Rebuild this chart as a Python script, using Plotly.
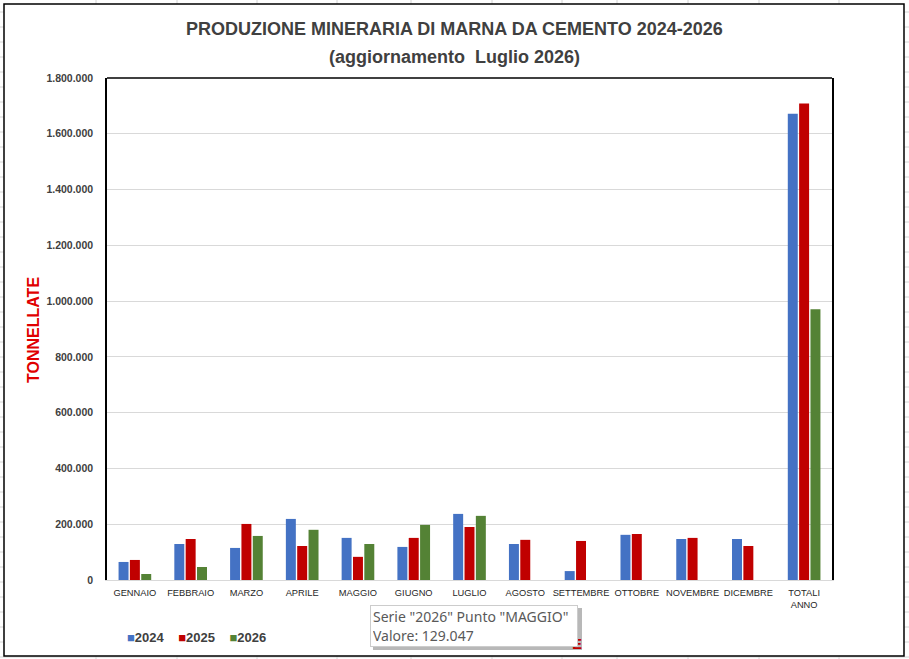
import plotly.graph_objects as go

# dati (tonnellate)
mesi = ["GENNAIO", "FEBBRAIO", "MARZO", "APRILE", "MAGGIO", "GIUGNO", "LUGLIO",
        "AGOSTO", "SETTEMBRE", "OTTOBRE", "NOVEMBRE", "DICEMBRE", "TOTALI<br>ANNO"]
anni = ["2024", "2025", "2026"]
colori = ["#4472C4", "#C00000", "#548235"]

prod_2024 = [64700, 129000, 115000, 219000, 151000, 118600, 237000,
             129000, 32000, 162000, 147000, 147000, 1672000]
prod_2025 = [71900, 147000, 201000, 122000, 83000, 151000, 190000,
             144000, 140000, 165000, 151000, 122000, 1709000]
prod_2026 = [21600, 46700, 158000, 180000, 129047, 197600, 230000,
             None, None, None, None, None, 971000]

y_ticks = list(range(0, 1800001, 200000))

# posizioni in pixel -> coordinate "paper"
L, R, T, B = 107, 832, 78, 580


def px(x):
    return (x - L) / (R - L)


def py(y):
    return (B - y) / (B - T)


fig = go.Figure()
for nome, col, vals in zip(anni, colori, [prod_2024, prod_2025, prod_2026]):
    fig.add_trace(go.Bar(x=mesi, y=vals, name=nome, marker_color=col,
                         marker_line_width=0, hoverinfo="skip"))

# griglia del foglio Excel attorno al grafico
shapes = []
for xc in [96, 177, 257, 337, 411, 492, 562, 617, 688, 759, 839]:
    shapes.append(dict(type="line", xref="paper", yref="paper", layer="below",
                       x0=px(xc), x1=px(xc), y0=py(0), y1=py(659),
                       line=dict(color="#d4d4d4", width=1)))
for yr in range(12, 659, 15):
    shapes.append(dict(type="line", xref="paper", yref="paper", layer="below",
                       x0=px(0), x1=px(909), y0=py(yr), y1=py(yr),
                       line=dict(color="#d4d4d4", width=1)))
# area del grafico
shapes.append(dict(type="rect", xref="paper", yref="paper", layer="below",
                   x0=px(4), x1=px(904), y0=py(4), y1=py(656),
                   fillcolor="white", line=dict(color="black", width=1.5)))
# bordo superiore area di tracciato
shapes.append(dict(type="line", xref="paper", yref="paper",
                   x0=0, x1=1, y0=1, y1=1, line=dict(color="black", width=1.5)))
# ombra del tooltip
shapes.append(dict(type="rect", xref="paper", yref="paper",
                   x0=px(373), x1=px(582), y0=py(608), y1=py(650),
                   fillcolor="#b8b8b8", line=dict(width=0)))

legenda = "&nbsp;&nbsp;&nbsp;&nbsp;".join(
    f"<span style='color:{c};font-size:13px'>■</span><b>{a}</b>"
    for a, c in zip(anni, colori))

annotations = [
    dict(text="<b>PRODUZIONE MINERARIA DI MARNA DA CEMENTO 2024-2026</b>",
         x=px(454.5), y=py(29), font=dict(size=18, color="#404040")),
    dict(text="<b>(aggiornamento  Luglio 2026)</b>",
         x=px(454.5), y=py(57), font=dict(size=18, color="#404040")),
    dict(text="<b>TONNELLATE</b>", textangle=-90,
         x=px(33), y=py(330), font=dict(size=16, color="#E00000")),
    dict(text=legenda, x=px(125), y=py(637), xanchor="left",
         font=dict(size=13, color="#404040")),
    dict(text="<b>E</b>", x=px(584), y=py(643), xanchor="right",
         font=dict(size=15, color="#C00000")),
    dict(text="Serie \"2026\" Punto \"MAGGIO\"<br>Valore: 129.047",
         x=px(370), y=py(605), xanchor="left", yanchor="top", align="left",
         width=202, height=36, bgcolor="white", bordercolor="#cccccc",
         borderwidth=1, borderpad=2,
         font=dict(family="Noto Sans", size=14, color="#595959")),
]
for a in annotations:
    a.setdefault("xref", "paper")
    a.setdefault("yref", "paper")
    a.setdefault("xanchor", "center")
    a.setdefault("yanchor", "middle")
    a.setdefault("showarrow", False)

fig.update_layout(
    width=909, height=659,
    margin=dict(l=L, r=909 - R, t=T, b=659 - B),
    paper_bgcolor="white", plot_bgcolor="white",
    font=dict(family="Liberation Sans", color="#404040"),
    separators=",.",
    barmode="group", bargap=0.39, bargroupgap=0.12,
    showlegend=False,
    shapes=shapes, annotations=annotations,
)
fig.update_xaxes(type="category", showline=True, linecolor="#d9d9d9", linewidth=1,
                 showgrid=False, ticks="", ticklabelstandoff=4,
                 tickfont=dict(size=9.3, color="#262626"))
fig.update_yaxes(range=[0, 1800000], tickvals=y_ticks, tickformat=",d",
                 showgrid=True, gridcolor="#d9d9d9", gridwidth=1,
                 showline=True, linecolor="black", linewidth=1.5, mirror=True,
                 zeroline=False, ticks="", ticklabelstandoff=10,
                 tickfont=dict(size=10.5, color="#404040", weight="bold"))

fig.write_html("out.html", config={"displayModeBar": False},
               post_script="document.body.style.margin='0';"
                           "document.body.style.overflow='hidden';")
